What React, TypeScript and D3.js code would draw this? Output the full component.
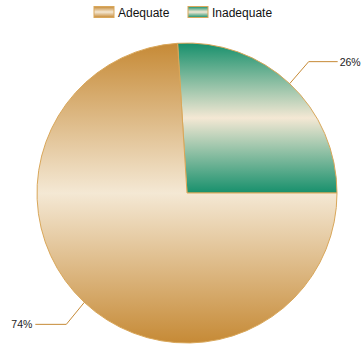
import React from "react";
import * as d3 from "d3";

const categories = ["Adequate", "Inadequate"];
const values = [74, 26];
const labels = ["74%", "26%"];
const darkColors = ["#c68a36", "#17906c"];
const lightColor = "#f4e8d4";

export default function App() {
  const W = 362, H = 346;
  const cx = 187, cy = 193, r = 150;
  const startOffset = -(values[1] / 100) * 2 * Math.PI + Math.PI / 2;
  const pie = d3
    .pie<number>()
    .sort(null)
    .startAngle(startOffset)
    .endAngle(startOffset + 2 * Math.PI)
    .value((d) => d);
  const ordered = [values[1], values[0]];
  const arcsData = pie(ordered);
  const arcGen = d3.arc<d3.PieArcDatum<number>>().innerRadius(0).outerRadius(r);
  const idxMap = [1, 0];

  return (
    <svg width={W} height={H} style={{ position: "absolute", left: 0, top: 0 }}>
      <defs>
        {categories.map((c, i) => (
          <linearGradient key={c} id={`g${i}`} x1="0" y1="0" x2="0" y2="1">
            <stop offset="0" stopColor={darkColors[i]} />
            <stop offset="0.5" stopColor={lightColor} />
            <stop offset="1" stopColor={darkColors[i]} />
          </linearGradient>
        ))}
      </defs>
      <g transform={`translate(${cx},${cy})`}>
        {arcsData.map((a, k) => {
          const i = idxMap[k];
          return (
            <path
              key={i}
              d={arcGen(a) || ""}
              fill={`url(#g${i})`}
              stroke="#d9a75a"
              strokeWidth={1}
            />
          );
        })}
        {arcsData.map((a, k) => {
          const i = idxMap[k];
          const mid = (a.startAngle + a.endAngle) / 2;
          const x0 = r * Math.sin(mid);
          const y0 = -r * Math.cos(mid);
          const x1 = x0 + (i === 1 ? 19 : -18);
          const y1 = y0 + (i === 1 ? -22 : 22);
          const x2 = x1 + (i === 1 ? 29 : -31);
          return (
            <g key={"l" + i}>
              <polyline
                points={`${x0},${y0} ${x1},${y1} ${x2},${y1}`}
                fill="none"
                stroke="#c68a36"
                strokeWidth={1}
              />
              <text
                x={x2 + (i === 1 ? 2 : -3)}
                y={y1 + 4}
                fontSize={10.5}
                fontFamily="Liberation Sans, Arial, sans-serif"
                fill="#222"
                textAnchor={i === 1 ? "start" : "end"}
              >
                {labels[i]}
              </text>
            </g>
          );
        })}
      </g>
      <g fontFamily="Liberation Sans, Arial, sans-serif" fontSize={12} fill="#111">
        {categories.map((c, i) => {
          const x = i === 0 ? 94 : 188;
          return (
            <g key={c}>
              <rect x={x} y={6.5} width={20} height={11} fill={`url(#g${i})`} stroke="#d9a75a" />
              <text x={x + 24} y={16.5}>
                {c}
              </text>
            </g>
          );
        })}
      </g>
    </svg>
  );
}
